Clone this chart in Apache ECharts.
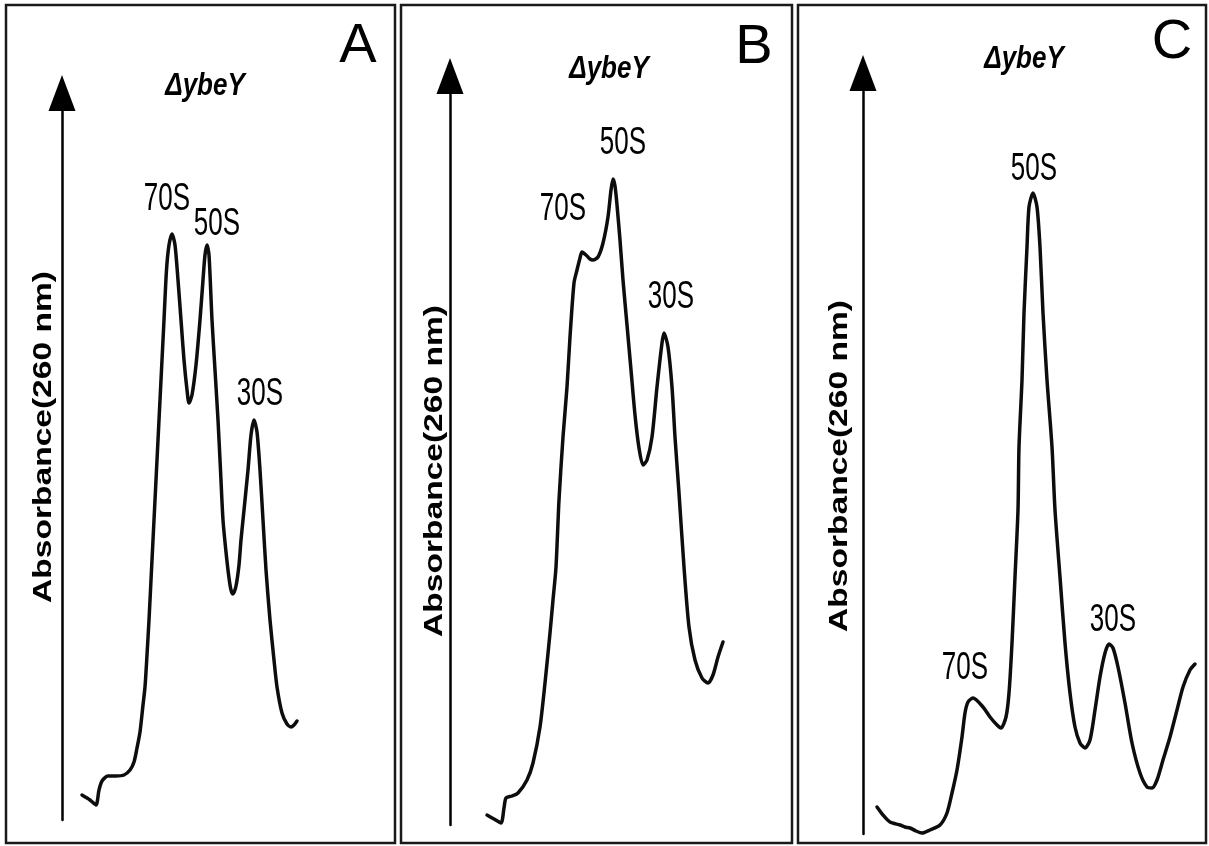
<!DOCTYPE html>
<html>
<head>
<meta charset="utf-8">
<script src="https://cdn.jsdelivr.net/npm/echarts@6/dist/echarts.min.js"></script>
<style>
html,body{margin:0;padding:0;background:#fff;}
#c{width:1209px;height:846px;}
</style>
</head>
<body>
<div id="c"></div>
<script>
// ---- Data: [fraction position, absorbance (arbitrary units)] ----
const profileA = [[8.2,0.51],[9.0,0.46],[9.6,0.41],[9.9,0.56],[10.2,0.65],[10.8,0.70],[11.6,0.70],[12.4,0.71],[13.0,0.76],[13.4,0.84],[13.7,0.98],[14.0,1.14],[14.3,1.41],[14.5,1.59],[14.7,1.91],[14.9,2.26],[15.15,2.76],[15.4,3.26],[15.65,3.76],[15.9,4.26],[16.15,4.76],[16.4,5.26],[16.65,5.76],[16.9,6.01],[17.2,6.12],[17.5,6.01],[17.8,5.66],[18.1,5.26],[18.4,4.86],[18.7,4.56],[18.9,4.43],[19.2,4.51],[19.6,4.81],[20.0,5.26],[20.3,5.66],[20.5,5.91],[20.7,6.01],[20.9,5.91],[21.2,5.26],[21.5,4.76],[21.8,4.26],[22.05,3.76],[22.3,3.26],[22.6,2.94],[22.9,2.68],[23.1,2.56],[23.3,2.52],[23.6,2.60],[23.9,2.81],[24.1,3.06],[24.3,3.26],[24.8,3.76],[25.1,4.11],[25.4,4.26],[25.7,4.14],[26.0,3.76],[26.3,3.26],[26.6,2.76],[27.0,2.26],[27.4,1.86],[27.7,1.59],[28.2,1.33],[28.7,1.22],[29.1,1.19],[29.4,1.21],[29.7,1.25]];

const profileB = [[8.7,0.31],[9.4,0.27],[10.1,0.23],[10.4,0.38],[10.6,0.48],[11.2,0.50],[11.8,0.53],[12.7,0.66],[13.3,0.83],[14.0,1.19],[14.5,1.63],[15.0,2.13],[15.3,2.46],[15.6,2.79],[15.9,3.46],[16.3,4.09],[16.7,4.59],[17.0,5.09],[17.4,5.63],[17.7,5.76],[18.0,5.88],[18.2,5.94],[18.6,5.91],[19.0,5.87],[19.3,5.86],[19.8,5.89],[20.3,6.03],[20.8,6.29],[21.1,6.56],[21.3,6.67],[21.5,6.60],[21.7,6.41],[22.0,6.06],[22.3,5.66],[22.7,5.21],[23.1,4.76],[23.5,4.31],[23.9,3.98],[24.3,3.81],[24.7,3.86],[25.2,4.09],[25.7,4.59],[26.2,5.03],[26.4,5.13],[26.8,4.99],[27.2,4.59],[27.5,4.09],[27.9,3.53],[28.4,2.79],[28.9,2.19],[29.5,1.86],[30.2,1.68],[30.8,1.63],[31.3,1.71],[31.8,1.89],[32.3,2.04]];

const profileC = [[7.7,0.39],[8.3,0.31],[9.0,0.24],[10.0,0.21],[10.5,0.19],[11.0,0.18],[11.6,0.15],[12.2,0.13],[13.0,0.16],[14.0,0.21],[14.7,0.33],[15.2,0.53],[15.7,0.76],[16.2,1.09],[16.5,1.33],[16.8,1.44],[17.3,1.48],[18.3,1.39],[19.0,1.29],[19.7,1.21],[20.1,1.18],[20.6,1.29],[20.9,1.53],[21.2,2.03],[21.5,2.69],[21.8,3.36],[21.9,3.99],[22.2,4.66],[22.4,5.33],[22.7,5.99],[22.9,6.39],[23.3,6.53],[23.7,6.39],[24.0,5.99],[24.3,5.33],[24.7,4.66],[25.2,3.99],[25.5,3.36],[26.0,2.69],[26.5,2.03],[27.0,1.53],[27.5,1.19],[28.0,1.03],[28.5,0.98],[29.0,1.06],[29.5,1.36],[30.0,1.69],[30.5,1.93],[30.9,2.02],[31.3,1.98],[31.8,1.79],[32.5,1.43],[33.2,1.03],[34.0,0.73],[34.7,0.59],[35.2,0.58],[35.7,0.66],[36.3,0.86],[37.0,1.09],[37.7,1.36],[38.3,1.59],[39.0,1.76],[39.5,1.82]];

const panelLetters = ['A', 'B', 'C'];
const panelTitle = 'ΔybeY';
const yAxisName = 'Absorbance(260 nm)';
// peak annotations [label, fraction, absorbance]
const peaksA = [['70S', 16.7, 6.47], ['50S', 21.7, 6.22], ['30S', 26.0, 4.52]];
const peaksB = [['70S', 16.3, 6.37], ['50S', 22.3, 7.03], ['30S', 27.1, 5.49]];
const peaksC = [['70S', 16.5, 1.78], ['50S', 23.4, 6.77], ['30S', 31.3, 2.26]];

// ---- Layout (pixels) ----
const H = 846;
const ARROW_W = 27, ARROW_H = 36;
const FONT = '"Liberation Sans", Arial, Helvetica, sans-serif';
const panels = [
  {data: profileA, peaks: peaksA, off: 0,   box: [6, 5, 389, 838],   axisX: 62,  tip: 75, base: 820, right: 395,  title: [205, 86], letter: [358, 47], ylab: [44, 437]},
  {data: profileB, peaks: peaksB, off: 400, box: [401, 5, 391, 838], axisX: 450, tip: 58, base: 825, right: 792,  title: [609, 69], letter: [754, 48], ylab: [435, 471]},
  {data: profileC, peaks: peaksC, off: 800, box: [798, 5, 408, 838], axisX: 863, tip: 55, base: 834, right: 1206, title: [1024, 59], letter: [1172, 43], ylab: [840, 466]}
];

const chart = echarts.init(document.getElementById('c'), null, {renderer: 'canvas'});
const grids = [], xAxes = [], yAxes = [], series = [];
panels.forEach(function (p, i) {
  const top = p.tip + ARROW_H / 2;
  grids.push({left: p.axisX, top: top, width: p.right - p.axisX, height: p.base - top, containLabel: false});
  xAxes.push({type: 'value', gridIndex: i, min: (p.axisX - p.off) / 10, max: (p.right - p.off) / 10,
    show: true, axisLine: {show: false}, axisTick: {show: false}, axisLabel: {show: false}, splitLine: {show: false}});
  yAxes.push({type: 'value', gridIndex: i, min: (H - p.base) / 100, max: (H - top) / 100,
    axisLine: {show: true, onZero: false, symbol: ['none', 'triangle'], symbolSize: [ARROW_W, ARROW_H],
      lineStyle: {color: '#000', width: 2.5}},
    axisTick: {show: false}, axisLabel: {show: false}, splitLine: {show: false}});
  series.push({type: 'line', xAxisIndex: i, yAxisIndex: i, data: p.data, showSymbol: false, smooth: 0.25,
    clip: false, lineStyle: {color: '#0d0d0d', width: 3.5, cap: 'round', join: 'round'}, animation: false, silent: true});
});

chart.setOption({
  backgroundColor: '#fff',
  animation: false,
  grid: grids, xAxis: xAxes, yAxis: yAxes, series: series
});

const graphics = [];
panels.forEach(function (p, i) {
  graphics.push({type: 'rect', shape: {x: p.box[0], y: p.box[1], width: p.box[2], height: p.box[3]},
    style: {fill: 'none', stroke: '#1a1a1a', lineWidth: 2.5}, z: 1, silent: true});
  graphics.push({type: 'text', x: p.title[0], y: p.title[1], scaleY: 1.2, z: 5,
    style: {text: panelTitle, fontFamily: FONT, fontSize: 26, fontWeight: 'bold', fontStyle: 'italic', fill: '#000',
      align: 'center', verticalAlign: 'middle', textAlign: 'center', textVerticalAlign: 'middle'}});
  graphics.push({type: 'text', x: p.letter[0], y: p.letter[1], z: 5,
    style: {text: panelLetters[i], fontFamily: FONT, fontSize: 56, fontWeight: 'normal', fill: '#000',
      align: 'center', verticalAlign: 'middle', textAlign: 'center', textVerticalAlign: 'middle'}});
  graphics.push({type: 'text', x: p.ylab[0], y: p.ylab[1], rotation: Math.PI / 2, scaleX: 1.29, scaleY: 1, z: 5,
    style: {text: yAxisName, fontFamily: FONT, fontSize: 26, fontWeight: 'bold', fill: '#000',
      align: 'center', verticalAlign: 'middle', textAlign: 'center', textVerticalAlign: 'middle'}});
  p.peaks.forEach(function (pk) {
    const pt = chart.convertToPixel({gridIndex: i}, [pk[1], pk[2]]);
    graphics.push({type: 'text', x: pt[0], y: pt[1], scaleX: 1, scaleY: 1.5, z: 5,
      style: {text: pk[0], fontFamily: FONT, fontSize: 26, fill: '#000',
        align: 'center', verticalAlign: 'middle', textAlign: 'center', textVerticalAlign: 'middle'}});
  });
});
chart.setOption({graphic: graphics});
</script>
</body>
</html>
